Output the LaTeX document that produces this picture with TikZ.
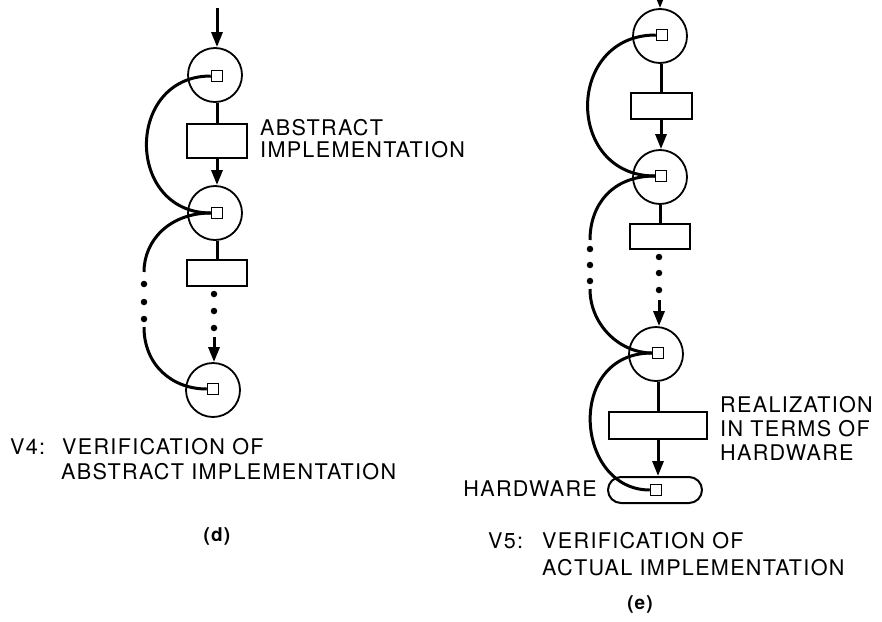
\documentclass[tikz,border=0pt]{standalone}
\usepackage{fontspec}
\newfontfamily\labfont[LetterSpace=6]{TeX Gyre Heros}
\usetikzlibrary{arrows.meta}
\begin{document}
\begin{tikzpicture}[x=1pt,y=-1pt,
  place/.style={circle,draw,line width=1.8pt,minimum size=54pt,inner sep=0pt},
  token/.style={draw,line width=1.5pt,minimum size=11pt,inner sep=0pt,fill=white},
  trans/.style={draw,line width=2pt,inner sep=0pt},
  hwbox/.style={draw,line width=2pt,inner sep=0pt,rounded corners=13pt},
  conn/.style={line width=3pt},
  arr/.style={conn,-{Triangle[length=15pt,width=11pt]}},
  dotn/.style={circle,fill,inner sep=0pt,minimum size=6.5pt},
  lab/.style={font=\labfont\fontsize{21.6}{26}\selectfont,inner sep=0pt},
  capt/.style={font=\labfont\bfseries\fontsize{19}{22}\selectfont,inner sep=0pt}
]
\fill[white] (0,0) rectangle (882,621);
\useasboundingbox (0,0) rectangle (882,621);

% ---------------- (d) ----------------
\node[place] (d1) at (215,75) {};
\node[trans,minimum width=60pt,minimum height=34pt] (dr1) at (217,141) {};
\node[place] (d2) at (215,213) {};
\node[trans,minimum width=60pt,minimum height=26pt] (dr2) at (217,273) {};
\node[place] (d3) at (213,390) {};
\node[token] (d1t) at (217,76) {};
\node[token] (d2t) at (217,213) {};
\node[token] (d3t) at (213,389) {};

\coordinate (din) at (217,8);
\draw[arr] (din) -- (din |- d1.north);
\draw[conn] (dr1.north |- d1.south) -- (dr1.north);
\draw[arr] (dr1.south) -- (dr1.south |- d2.north);
\draw[conn] (dr2.north |- d2.south) -- (dr2.north);
\node[dotn] (dd1) at (214,294) {};
\node[dotn] (dd2) at (214,311) {};
\node[dotn] (dd3) at (214,328) {};
\coordinate (das) at (214,337);
\draw[arr] (das) -- (das |- d3.north);

\draw[conn] (d1t.west) .. controls (125,76) and (125,213) .. (d2t.west);
\coordinate (dc1) at (144,272);
\coordinate (dc2) at (144,327);
\draw[conn] (d2t.west) .. controls (170,213) and (144,240) .. (dc1);
\node[dotn] (dl1) at (144,284) {};
\node[dotn] (dl2) at (144,302) {};
\node[dotn] (dl3) at (144,319) {};
\draw[conn] (dc2) .. controls (144,365) and (172,389) .. (d3t.west);

\node[lab,anchor=base west] (abs1) at (260,135) {ABSTRACT};
\node[lab,anchor=base west] (abs2) at (260,157) {IMPLEMENTATION};
\node[lab,anchor=base west] (v4a) at (10,454) {V4:};
\node[lab,anchor=base west] (v4b) at (62,454) {VERIFICATION OF};
\node[lab,anchor=base west] (v4c) at (61,479) {ABSTRACT IMPLEMENTATION};
\node[capt,anchor=base] (dcap) at (217,541) {(d)};

% ---------------- (e) ----------------
\node[place] (e1) at (660,36) {};
\node[trans,minimum width=61pt,minimum height=26pt] (er1) at (661,106) {};
\node[place] (e2) at (660,177) {};
\node[trans,minimum width=60pt,minimum height=25pt] (er2) at (660,236) {};
\node[place] (e3) at (656,354) {};
\node[trans,minimum width=98pt,minimum height=27pt] (er3) at (658,425) {};
\node[hwbox,minimum width=94pt,minimum height=26pt] (ehw) at (655,490) {};
\node[token] (e1t) at (662,35) {};
\node[token] (e2t) at (661,176) {};
\node[token] (e3t) at (658,353) {};
\node[token] (ehwt) at (656,490) {};

\coordinate (ein) at (660,-20);
\draw[arr] (ein) -- (ein |- e1.north);
\draw[conn] (er1.north |- e1.south) -- (er1.north);
\draw[arr] (er1.south) -- (er1.south |- e2.north);
\draw[conn] (er2.north |- e2.south) -- (er2.north);
\node[dotn] (ed1) at (659,257) {};
\node[dotn] (ed2) at (659,273) {};
\node[dotn] (ed3) at (659,290) {};
\coordinate (eas) at (659,300);
\draw[arr] (eas) -- (eas |- e3.north);
\draw[conn] (er3.north |- e3.south) -- (er3.north);
\draw[arr] (er3.south) -- (er3.south |- ehw.north);

\draw[conn] (e1t.west) .. controls (565,35) and (565,176) .. (e2t.west);
\coordinate (ec1) at (590,240);
\coordinate (ec2) at (590,289);
\draw[conn] (e2t.west) .. controls (612,176) and (590,205) .. (ec1);
\node[dotn] (el1) at (590,249) {};
\node[dotn] (el2) at (590,265) {};
\node[dotn] (el3) at (590,281) {};
\draw[conn] (ec2) .. controls (590,325) and (620,353) .. (e3t.west);
\draw[conn] (e3t.west) .. controls (565,353) and (575,490) .. (ehwt.west);

\node[lab,anchor=base west] (re1) at (720,412) {REALIZATION};
\node[lab,anchor=base west] (re2) at (720,436) {IN TERMS OF};
\node[lab,anchor=base west] (re3) at (720,460) {HARDWARE};
\node[lab,anchor=base east] (hwl) at (597,496) {HARDWARE};
\node[lab,anchor=base west] (v5a) at (488,548) {V5:};
\node[lab,anchor=base west] (v5b) at (542,548) {VERIFICATION OF};
\node[lab,anchor=base west] (v5c) at (542,575) {ACTUAL IMPLEMENTATION};
\node[capt,anchor=base] (ecap) at (640,609) {(e)};
\end{tikzpicture}
\end{document}
